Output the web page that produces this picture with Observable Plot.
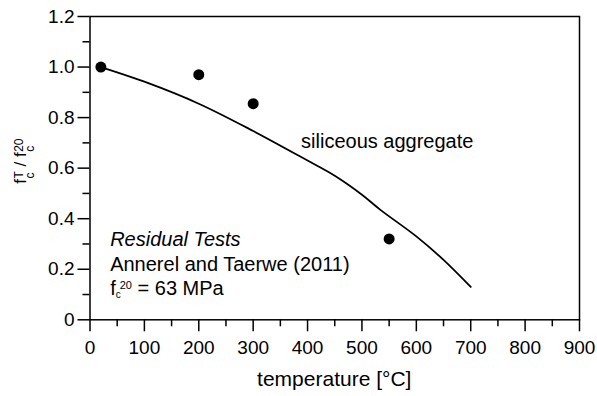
<!DOCTYPE html>
<html><head><meta charset="utf-8">
<script src="https://cdn.jsdelivr.net/npm/d3@7"></script>
<script src="https://cdn.jsdelivr.net/npm/@observablehq/plot@0.6"></script>
<style>body{margin:0;background:#fff}</style>
</head><body><div id="chart"></div>
<script>
// Model curve (siliceous aggregate)
const curveTemp  = [20, 100, 200, 300, 400, 450, 500, 534, 600, 650, 700];
const curveRatio = [1.0, 0.942, 0.855, 0.747, 0.63, 0.57, 0.495, 0.435, 0.33, 0.237, 0.13];
// Residual test points (Annerel and Taerwe 2011)
const testTemp  = [20, 200, 300, 550];
const testRatio = [1.0, 0.97, 0.855, 0.32];
// Axis ticks
const xMajor = [0, 100, 200, 300, 400, 500, 600, 700, 800, 900];
const xMinor = [50, 150, 250, 350, 450, 550, 650, 750, 850];
const yMajor = [0, 0.2, 0.4, 0.6, 0.8, 1.0, 1.2];
const yMinor = [0.1, 0.3, 0.5, 0.7, 0.9, 1.1];
const yTickLabels = ["0", "0.2", "0.4", "0.6", "0.8", "1.0", "1.2"];
// Texts
const xTitle = "temperature [°C]";
const curveLabel = "siliceous aggregate";
const noteTitle = "Residual Tests";
const noteSource = "Annerel and Taerwe (2011)";
const noteStrength = " = 63 MPa";

const curve = curveTemp.map((t, i) => ({t, r: curveRatio[i]}));
const tests = testTemp.map((t, i) => ({t, r: testRatio[i]}));

const font = "'Liberation Sans', Arial, Helvetica, sans-serif";

const plot = Plot.plot({
  width: 597, height: 396,
  marginLeft: 89.5, marginRight: 18, marginTop: 16, marginBottom: 76.7,
  x: {domain: [0, 900]},
  y: {domain: [0, 1.2]},
  style: {fontFamily: font, fontSize: "19px", color: "black", background: "white"},
  marks: [
    Plot.frame({stroke: "black", strokeWidth: 1.5}),
    Plot.axisX({ticks: xMajor, tickSize: 12, tickPadding: 9, strokeWidth: 1.5, label: null, tickFormat: d => String(d)}),
    Plot.axisX({ticks: xMinor, tickSize: 7, strokeWidth: 1.5, label: null, tickFormat: () => ""}),
    Plot.axisY({ticks: yMajor, tickSize: 12, tickPadding: 3.5, strokeWidth: 1.5, label: null,
      tickFormat: d => yTickLabels[yMajor.findIndex(v => Math.abs(v - d) < 1e-9)]}),
    Plot.axisY({ticks: yMinor, tickSize: 7, strokeWidth: 1.5, label: null, tickFormat: () => ""}),
    Plot.line(curve, {x: "t", y: "r", curve: "catmull-rom", stroke: "black", strokeWidth: 1.8}),
    Plot.dot(tests, {x: "t", y: "r", r: 5.5, fill: "black", stroke: "none"})
  ]
});
document.getElementById("chart").appendChild(plot);

const svg = d3.select(plot);
const X = plot.scale("x"), Y = plot.scale("y");
const cx = (X.apply(0) + X.apply(900)) / 2;
const cy = (Y.apply(0) + Y.apply(1.2)) / 2;

function txt(x, y, size, anchor) {
  return svg.append("text").attr("x", x).attr("y", y)
    .attr("text-anchor", anchor || "start")
    .style("font-size", size + "px").style("font-family", font).attr("fill", "black");
}
function sp(sel, text, size, dx, dy) {
  const t = sel.append("tspan").text(text);
  if (size) t.style("font-size", size + "px");
  if (dx) t.attr("dx", dx);
  if (dy) t.attr("dy", dy);
  return t;
}

// x-axis title
txt(cx, Y.apply(0) + 67, 21, "middle").text(xTitle);

// y-axis title: f_c^T / f_c^20
const yl = svg.append("text")
  .attr("transform", `translate(25.7,${cy - 6.5}) rotate(-90)`)
  .attr("text-anchor", "middle").style("font-size", "17px").style("font-family", font).attr("fill", "black");
sp(yl, "f");
sp(yl, "c", 12, 0.5, 7.8);
sp(yl, "T", 12, -6, -10.2);
sp(yl, " / f", 0, 0, 2.4);
sp(yl, "c", 12, 0.5, 7.8);
sp(yl, "20", 12, -6, -10.2);

// curve label
txt(X.apply(389), Y.apply(0.676), 20).text(curveLabel);

// note block
txt(X.apply(38), Y.apply(0.29), 20).style("font-style", "italic").text(noteTitle);
txt(X.apply(38), Y.apply(0.191), 20).text(noteSource);
const t3 = txt(X.apply(38), Y.apply(0.097), 20);
sp(t3, "f");
sp(t3, "c", 10, 0, 3.5);
sp(t3, "20", 11, -1, -9.5);
sp(t3, noteStrength, 0, 0, 6);
</script>
</body></html>
